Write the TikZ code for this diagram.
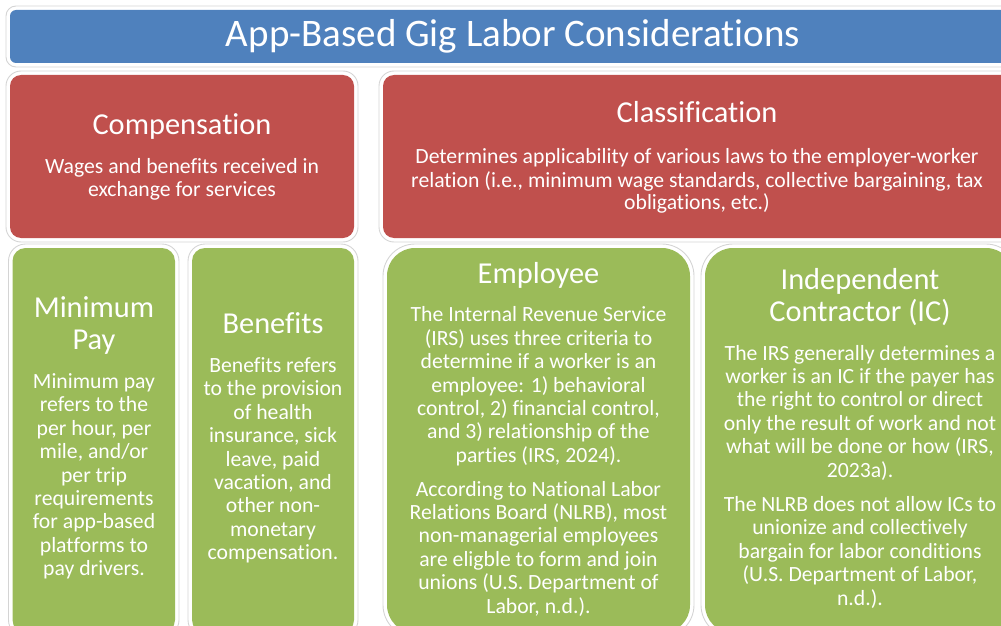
\documentclass[tikz,border=0pt]{standalone}
\usepackage{fontspec}
\setmainfont{Carlito}[Ligatures=NoCommon]
\definecolor{titleblue}{HTML}{4F81BD}
\definecolor{catred}{HTML}{C0504D}
\definecolor{itemgreen}{HTML}{9BBB59}
\definecolor{framegray}{HTML}{D4D4D4}
\begin{document}
\begin{tikzpicture}[x=1pt,y=-1pt,
  panel/.style={draw=none, rounded corners=#1, inner sep=0pt, outer sep=0pt, anchor=north west},
  halo/.style={draw=framegray, line width=0.9pt, rounded corners=#1},
  maintitle/.style={text=white, inner sep=0pt, anchor=base, font={\fontsize{39}{44}\selectfont}},
  heading/.style={text=white, inner sep=0pt, align=center, font={\fontsize{30.4}{32}\selectfont}},
  bodytext/.style={text=white, inner sep=0pt, anchor=north, align=center, font={\fontsize{21.7}{23.4}\selectfont}}]
\useasboundingbox (0,0) rectangle (1001,626);
\clip (0,0) rectangle (1001,626);

% coloured panels
\node[panel=6,  fill=titleblue, minimum width=1004, minimum height=53]  (bar)   at (10,10) {};
\node[panel=11, fill=catred,    minimum width=344,  minimum height=163] (comp)  at (10,75) {};
\node[panel=11, fill=catred,    minimum width=631,  minimum height=163] (class) at (383,75) {};
\node[panel=13, fill=itemgreen, minimum width=162.5,minimum height=385] (minpay) at (12.5,248) {};
\node[panel=13, fill=itemgreen, minimum width=162,  minimum height=385] (benef) at (192,248) {};
\node[panel=28, fill=itemgreen, minimum width=303,  minimum height=385] (empl)  at (387,248) {};
\node[panel=28, fill=itemgreen, minimum width=309,  minimum height=385] (indep) at (705,248) {};

% light outlines around each panel
\foreach \p/\r in {bar/10, comp/15, class/15, minpay/17, benef/17, empl/32, indep/32}
  \draw[halo=\r] ([shift={(-4,-4)}]\p.north west) rectangle ([shift={(4,4)}]\p.south east);

% title bar
\node[maintitle] (bartext) at (513,46.7) {App-Based Gig Labor Considerations};

% compensation
\node[heading, anchor=base] (comphead) at (182,134.3) {Compensation};
\node[bodytext] (compbody) at (182,173.3-16.4)
  {\strut Wages and benefits received in\\exchange for services};

% classification
\node[heading, anchor=base] (classhead) at (697,122.7) {Classification};
\node[bodytext, font={\fontsize{21.7}{22.6}\selectfont}] (classbody) at (697,163.3-15.8)
  {\strut Determines applicability of various laws to the employer-worker\\relation (i.e., minimum wage standards, collective bargaining, tax\\obligations, etc.)};

% minimum pay
\node[heading, anchor=north] (minhead) at (94,317.3-22.4)
  {\strut Minimum\\Pay};
\node[bodytext] (minbody) at (94,388.3-16.4)
  {\strut Minimum pay\\refers to the\\per hour, per\\mile, and/or\\per trip\\requirements\\for app-based\\platforms to\\pay drivers.};

% benefits
\node[heading, anchor=base] (benhead) at (273,333) {Benefits};
\node[bodytext] (benbody) at (273,372.3-16.4)
  {\strut Benefits refers\\to the provision\\of health\\insurance, sick\\leave, paid\\vacation, and\\other non-\\monetary\\compensation.};

% employee
\node[heading, anchor=base] (emphead) at (538.5,283.3) {Employee};
\node[bodytext] (empbody) at (538.5,321.7-16.4)
  {\strut The Internal Revenue Service\\(IRS) uses three criteria to\\determine if a worker is an\\employee: 1) behavioral\\control, 2) financial control,\\and 3) relationship of the\\parties (IRS, 2024).\\[10.5pt]According to National Labor\\Relations Board (NLRB), most\\non-managerial employees\\are eligble to form and join\\unions (U.S. Department of\\Labor, n.d.).};

% independent contractor
\node[heading, anchor=north] (ichead) at (860,289.3-22.4)
  {\strut Independent\\Contractor (IC)};
\node[bodytext] (icbody) at (860,360-16.4)
  {\strut The IRS generally determines a\\worker is an IC if the payer has\\the right to control or direct\\only the result of work and not\\what will be done or how (IRS,\\2023a).\\[11pt]The NLRB does not allow ICs to\\unionize and collectively\\bargain for labor conditions\\(U.S. Department of Labor,\\n.d.).};
\end{tikzpicture}
\end{document}
